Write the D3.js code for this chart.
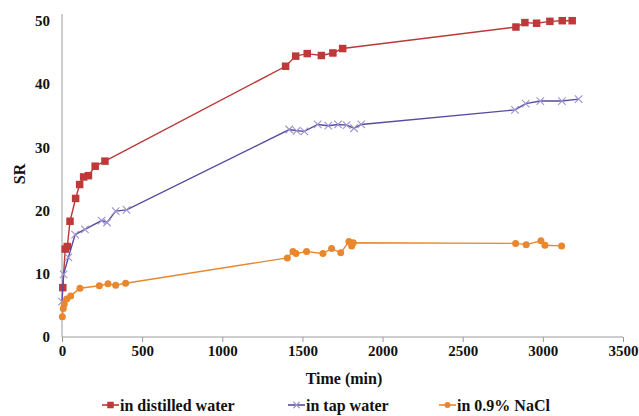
<!DOCTYPE html>
<html>
<head>
<meta charset="utf-8">
<script src="https://cdn.jsdelivr.net/npm/d3@7"></script>
<style>
  body { margin: 0; background: #fff; }
</style>
</head>
<body>
<svg id="chart" width="639" height="416"></svg>
<script>
// time (min) and SR for each medium
const distilledT = [5, 20, 33, 50, 85, 110, 135, 165, 207, 268, 1395, 1458, 1530, 1618, 1690, 1751, 2832, 2888, 2961, 3044, 3121, 3183];
const distilledSR = [7.8, 13.9, 14.3, 18.3, 21.9, 24.1, 25.3, 25.5, 27.0, 27.8, 42.8, 44.4, 44.8, 44.5, 44.9, 45.6, 49.0, 49.7, 49.6, 49.9, 50.0, 50.0];

const tapT = [0, 10, 40, 82, 143, 247, 281, 335, 403, 1418, 1464, 1512, 1595, 1661, 1722, 1776, 1822, 1867, 2826, 2893, 2984, 3119, 3223];
const tapSR = [5.6, 9.9, 12.6, 16.2, 17.0, 18.4, 18.1, 19.9, 20.1, 32.8, 32.6, 32.5, 33.6, 33.4, 33.6, 33.5, 33.0, 33.6, 35.9, 36.9, 37.3, 37.3, 37.6];

const naclT = [2, 8, 14, 29, 54, 112, 233, 287, 335, 397, 1406, 1441, 1460, 1526, 1628, 1682, 1739, 1790, 1807, 1817, 2830, 2896, 2988, 3013, 3117];
const naclSR = [3.2, 4.5, 5.2, 6.0, 6.5, 7.7, 8.1, 8.4, 8.2, 8.5, 12.5, 13.5, 13.2, 13.5, 13.2, 14.0, 13.3, 15.1, 14.4, 14.9, 14.8, 14.6, 15.2, 14.5, 14.4];

const xTicks = [0, 500, 1000, 1500, 2000, 2500, 3000, 3500];
const yTicks = [0, 10, 20, 30, 40, 50];
const seriesNames = ["in distilled water", "in tap water", "in 0.9% NaCl"];

const FONT = "'Times New Roman', Times, 'Liberation Serif', 'DejaVu Serif', serif";

const svg = d3.select("#chart");

const x = d3.scaleLinear().domain([0, 3500]).range([62, 623]);
const y = d3.scaleLinear().domain([0, 50]).range([337, 20.7]);

const zip = (ts, vs) => ts.map((t, i) => ({ t: t, v: vs[i] }));

const series = [
  { name: seriesNames[0], data: zip(distilledT, distilledSR), line: "#b83a38", mark: "#c0393a", shape: "square" },
  { name: seriesNames[1], data: zip(tapT, tapSR), line: "#5a4b9e", mark: "#9d93d3", shape: "cross" },
  { name: seriesNames[2], data: zip(naclT, naclSR), line: "#e8872e", mark: "#e8872e", shape: "circle" }
];

function styleText(sel, size) {
  sel.attr("font-family", FONT).attr("font-weight", "bold")
    .attr("font-size", size).attr("fill", "#111");
}

// axes
const xAxis = svg.append("g").attr("transform", "translate(0,337)")
  .call(d3.axisBottom(x).tickValues(xTicks).tickFormat(d3.format("d")).tickSize(5).tickPadding(3));
xAxis.attr("font-family", null);
xAxis.select(".domain").attr("stroke", "#9a9a9a").attr("d", "M62,0H623");
xAxis.selectAll(".tick line").attr("stroke", "#9a9a9a");
xAxis.selectAll(".tick text").call(styleText, 15);

const yAxis = svg.append("g").attr("transform", "translate(62,0)")
  .call(d3.axisLeft(y).tickValues(yTicks).tickSize(0).tickPadding(12));
yAxis.attr("font-family", null);
yAxis.select(".domain").attr("stroke", "#9a9a9a").attr("d", "M0,337V14");
yAxis.selectAll(".tick text").call(styleText, 15);

svg.append("text").attr("x", 344).attr("y", 384).attr("text-anchor", "middle")
  .text("Time (min)").call(styleText, 16);
svg.append("text").attr("transform", "translate(25,174) rotate(-90)")
  .attr("text-anchor", "middle").text("SR").call(styleText, 16);

function drawMarker(g, shape, color, size) {
  if (shape === "square") {
    g.append("rect").attr("x", -size / 2).attr("y", -size / 2)
      .attr("width", size).attr("height", size).attr("fill", color);
  } else if (shape === "circle") {
    g.append("circle").attr("r", size / 2).attr("fill", color);
  } else {
    const h = size / 2;
    g.append("path").attr("d", `M${-h},${-h}L${h},${h}M${-h},${h}L${h},${-h}`)
      .attr("stroke", color).attr("stroke-width", 1.1).attr("fill", "none");
  }
}

const sizes = { square: 7.5, circle: 7, cross: 7.5 };

series.forEach(s => {
  const line = d3.line().x(d => x(d.t)).y(d => y(d.v));
  const g = svg.append("g");
  g.append("path").datum(s.data).attr("d", line)
    .attr("fill", "none").attr("stroke", s.line).attr("stroke-width", 1.4);
  g.selectAll("g.m").data(s.data).enter().append("g").attr("class", "m")
    .attr("transform", d => `translate(${x(d.t)},${y(d.v)})`)
    .each(function() { drawMarker(d3.select(this), s.shape, s.mark, sizes[s.shape]); });
});

// legend
const legendX = [102, 288, 439];
series.forEach((s, i) => {
  const lg = svg.append("g").attr("transform", `translate(${legendX[i]},405)`);
  lg.append("line").attr("x1", 0).attr("x2", 17).attr("stroke", s.line).attr("stroke-width", 1.6);
  const m = lg.append("g").attr("transform", "translate(8.5,0)");
  drawMarker(m, s.shape, s.mark, sizes[s.shape] - 1);
  lg.append("text").attr("x", 18).attr("y", 5.5).text(s.name).call(styleText, 16);
});
</script>
</body>
</html>
